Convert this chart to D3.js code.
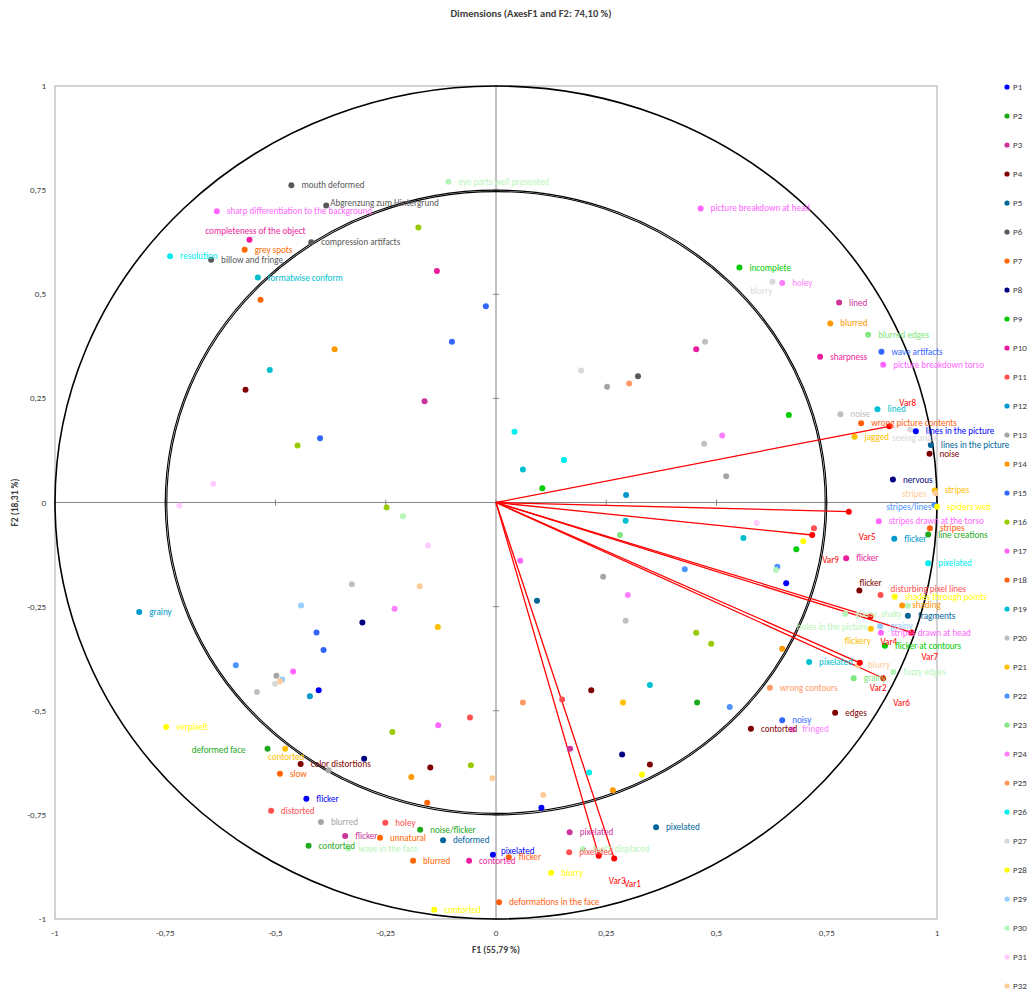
<!DOCTYPE html>
<html><head><meta charset="utf-8">
<script src="https://cdn.jsdelivr.net/npm/d3@7"></script>
<style>
body{margin:0;background:#fff}
svg text{font-family:Carlito, Calibri, Lato, sans-serif}
</style>
</head><body>
<svg id="chart" width="1030" height="996"></svg>
<script>
// ---------------- DATA ----------------
const persons = ["P1","P2","P3","P4","P5","P6","P7","P8","P9","P10","P11","P12","P13","P14","P15","P16",
  "P17","P18","P19","P20","P21","P22","P23","P24","P25","P26","P27","P28","P29","P30","P31","P32"];
const personColors = ["#0000FF","#1DA81D","#CC3399","#7F0000","#006699","#595959","#FF6600","#000080",
  "#00CC00","#EC1C9C","#FF5050","#0099CC","#A6A6A6","#FF9900","#3366FF","#99CC00",
  "#FF66FF","#FF6010","#00C0D0","#C0C0C0","#FFC000","#4D94FF","#80E680","#FF80FF",
  "#FF9966","#00EEEE","#D9D9D9","#FFFF00","#99CCFF","#B8F5B8","#FFCCFF","#FFCC99"];
const tickValues = [-1,-0.75,-0.5,-0.25,0,0.25,0.5,0.75,1];
const tickLabels = ["-1","-0,75","-0,5","-0,25","0","0,25","0,5","0,75","1"];
const variables = ["Var1","Var2","Var3","Var4","Var5","Var6","Var7","Var8","Var9"];
const varF1 = [0.268,0.825,0.233,0.849,0.800,0.878,0.942,0.892,0.717];
const varF2 = [-0.855,-0.385,-0.848,-0.274,-0.022,-0.422,-0.312,0.183,-0.078];
const circleRadii = [1, 0.75];
const titleText = "Dimensions (AxesF1 and F2: 74,10 %)";
const xTitle = "F1 (55,79 %)";
const yTitle = "F2 (18,31 %)";

// [person, F1, F2, label]
const points = [
  ["P6",-0.464,0.762,"mouth deformed"],
  ["P6",-0.385,0.713,"Abgrenzung zum Hintergrund"],
  ["P17",-0.633,0.699,"sharp differentiation to the background"],
  ["P10",-0.559,0.631,"completeness of the object"],
  ["P7",-0.570,0.607,"grey spots"],
  ["P6",-0.419,0.625,"compression artifacts"],
  ["P26",-0.739,0.591,"resolution"],
  ["P6",-0.646,0.583,"billow and fringe"],
  ["P19",-0.540,0.540,"formatwise conform"],
  ["P30",-0.108,0.770,"eye parts well presented"],
  ["P17",0.464,0.706,"picture breakdown at head"],
  ["P9",0.552,0.564,"incomplete"],
  ["P27",0.627,0.530,"blurry"],
  ["P24",0.649,0.527,"holey"],
  ["P3",0.778,0.480,"lined"],
  ["P14",0.758,0.430,"blurred"],
  ["P23",0.844,0.403,"blurred edges"],
  ["P15",0.874,0.362,"wave artifacts"],
  ["P17",0.878,0.331,"picture breakdown torso"],
  ["P10",0.735,0.350,"sharpness"],
  ["P19",0.865,0.224,"lined"],
  ["P20",0.781,0.212,"noise"],
  ["P18",0.828,0.190,"wrong picture contents"],
  ["P27",0.939,0.175,"seeing angle"],
  ["P1",0.952,0.171,"lines in the picture"],
  ["P21",0.813,0.158,"jagged"],
  ["P5",0.986,0.138,"lines in the picture"],
  ["P4",0.983,0.117,"noise"],
  ["P8",0.900,0.055,"nervous"],
  ["P21",0.995,0.029,"stripes"],
  ["P32",0.997,0.022,"stripes"],
  ["P22",0.994,-0.006,"stripes/lines"],
  ["P28",1.000,-0.010,"spiders web"],
  ["P17",0.868,-0.045,"stripes drawn at the torso"],
  ["P18",0.984,-0.062,"stripes"],
  ["P2",0.980,-0.077,"line creations"],
  ["P12",0.903,-0.087,"flicker"],
  ["P26",0.980,-0.146,"pixelated"],
  ["P10",0.794,-0.134,"flicker"],
  ["P4",0.824,-0.211,"flicker"],
  ["P11",0.872,-0.222,"disturbing pixel lines"],
  ["P28",0.904,-0.226,"shades through points"],
  ["P30",0.934,-0.248,"holes in the picture"],
  ["P14",0.921,-0.247,"shading"],
  ["P5",0.934,-0.272,"fragments"],
  ["P30",0.792,-0.268,"glassy, shaky"],
  ["P21",0.850,-0.303,"flickery"],
  ["P29",0.871,-0.297,"grainy"],
  ["P17",0.873,-0.313,"stripes drawn at head"],
  ["P9",0.882,-0.344,"flicker at contours"],
  ["P19",0.710,-0.383,"pixelated"],
  ["P32",0.821,-0.391,"blurry"],
  ["P23",0.811,-0.422,"grainy"],
  ["P30",0.901,-0.407,"fuzzy edges"],
  ["P25",0.621,-0.445,"wrong contours"],
  ["P4",0.769,-0.505,"edges"],
  ["P15",0.649,-0.523,"noisy"],
  ["P24",0.672,-0.545,"fringed"],
  ["P4",0.578,-0.543,"contorted"],
  ["P12",-0.809,-0.263,"grainy"],
  ["P28",-0.748,-0.539,"verpixelt"],
  ["P2",-0.518,-0.591,"deformed face"],
  ["P21",-0.478,-0.591,"contorted"],
  ["P4",-0.443,-0.628,"color distortions"],
  ["P7",-0.490,-0.651,"slow"],
  ["P1",-0.430,-0.711,"flicker"],
  ["P11",-0.510,-0.740,"distorted"],
  ["P13",-0.397,-0.767,"blurred"],
  ["P11",-0.251,-0.769,"holey"],
  ["P2",-0.172,-0.786,"noise/flicker"],
  ["P3",-0.342,-0.801,"flicker"],
  ["P7",-0.263,-0.805,"unnatural"],
  ["P5",-0.120,-0.811,"deformed"],
  ["P2",-0.425,-0.824,"contorted"],
  ["P30",-0.335,-0.831,"wave in the face"],
  ["P1",-0.007,-0.846,"pixelated"],
  ["P7",-0.188,-0.860,"blurred"],
  ["P10",-0.061,-0.860,"contorted"],
  ["P18",0.029,-0.852,"flicker"],
  ["P3",0.167,-0.792,"pixelated"],
  ["P30",0.197,-0.832,"teeth displaced"],
  ["P11",0.166,-0.840,"pixelated"],
  ["P5",0.363,-0.780,"pixelated"],
  ["P28",0.125,-0.889,"blurry"],
  ["P18",0.007,-0.960,"deformations in the face"],
  ["P28",-0.140,-0.978,"contorted"],
  // unlabeled points
  ["P16",-0.176,0.660,""],["P10",-0.134,0.556,""],["P7",-0.534,0.487,""],["P15",-0.023,0.471,""],
  ["P15",-0.100,0.386,""],["P14",-0.366,0.368,""],["P19",-0.513,0.318,""],["P4",-0.568,0.271,""],
  ["P3",-0.162,0.243,""],["P15",-0.399,0.154,""],["P16",-0.450,0.137,""],["P31",-0.641,0.045,""],
  ["P31",-0.718,-0.007,""],["P16",-0.248,-0.012,""],["P30",-0.211,-0.033,""],["P31",-0.154,-0.103,""],
  ["P20",-0.327,-0.196,""],["P32",-0.173,-0.201,""],["P29",-0.442,-0.247,""],["P24",-0.230,-0.255,""],
  ["P8",-0.303,-0.288,""],["P21",-0.132,-0.299,""],["P15",-0.407,-0.312,""],["P15",-0.391,-0.354,""],
  ["P22",-0.590,-0.391,""],["P13",-0.498,-0.416,""],["P17",-0.460,-0.406,""],["P29",-0.485,-0.425,""],
  ["P32",-0.490,-0.429,""],["P27",-0.501,-0.435,""],["P1",-0.402,-0.451,""],["P20",-0.542,-0.455,""],
  ["P12",-0.422,-0.465,""],["P13",-0.380,-0.643,""],["P8",-0.299,-0.615,""],["P16",-0.235,-0.551,""],
  ["P17",-0.131,-0.535,""],["P11",-0.059,-0.516,""],["P14",-0.192,-0.659,""],["P4",-0.149,-0.636,""],
  ["P16",-0.057,-0.631,""],["P32",-0.008,-0.662,""],["P7",-0.156,-0.721,""],["P1",0.103,-0.733,""],
  ["P32",0.107,-0.702,""],["P14",0.265,-0.691,""],["P6",0.322,0.303,""],["P27",0.193,0.317,""],
  ["P13",0.252,0.278,""],["P25",0.302,0.286,""],["P10",0.454,0.368,""],["P20",0.474,0.386,""],
  ["P26",0.042,0.170,""],["P29",0.154,0.102,""],["P26",0.154,0.102,""],["P19",0.061,0.079,""],
  ["P9",0.105,0.034,""],["P12",0.295,0.018,""],["P19",0.294,-0.044,""],["P23",0.281,-0.078,""],
  ["P17",0.055,-0.140,""],["P22",0.428,-0.160,""],["P13",0.243,-0.178,""],["P24",0.299,-0.222,""],
  ["P5",0.093,-0.236,""],["P20",0.294,-0.284,""],["P16",0.454,-0.313,""],["P16",0.488,-0.339,""],
  ["P4",0.216,-0.451,""],["P19",0.349,-0.438,""],["P11",0.150,-0.473,""],["P21",0.288,-0.480,""],
  ["P25",0.061,-0.480,""],["P2",0.456,-0.480,""],["P22",0.530,-0.491,""],["P3",0.168,-0.591,""],
  ["P8",0.286,-0.605,""],["P4",0.349,-0.629,""],["P26",0.211,-0.648,""],["P28",0.331,-0.653,""],
  ["P24",0.513,0.161,""],["P20",0.472,0.141,""],["P13",0.522,0.063,""],["P9",0.664,0.210,""],
  ["P31",0.591,-0.049,""],["P19",0.561,-0.085,""],["P28",0.697,-0.093,""],["P9",0.681,-0.112,""],
  ["P22",0.638,-0.154,""],["P30",0.635,-0.162,""],["P1",0.658,-0.194,""],["P11",0.721,-0.062,""],
  ["P14",0.649,-0.351,""]
];

// label placement tweaks (anchor, dx, dy in px) for labels not placed at default right position
const labelAdjust = {
  "P10|completeness of the object": ["middle", 6, -9],
  "P6|Abgrenzung zum Hintergrund": ["start", 4, -3],
  "P27|blurry": ["end", 0, 9],
  "P27|seeing angle": ["start", -18, 8],
  "P32|stripes": ["end", -9, 1],
  "P22|stripes/lines": ["end", -3, 2],
  "P2|deformed face": ["end", -22, 1],
  "P21|contorted": ["middle", 1, 8],
  "P4|flicker": ["start", 0, -7],
  "P11|disturbing pixel lines": ["start", 10, -6],
  "P21|flickery": ["end", 0, 12],
  "P30|holes in the picture": ["end", -40, 21],
  "P1|pixelated": ["start", 8, -4]
};

// ---------------- DRAW ----------------
const svg = d3.select("#chart");
const x = d3.scaleLinear().domain([-1, 1]).range([55, 937]);
const y = d3.scaleLinear().domain([-1, 1]).range([919, 86]);
const colorOf = d3.scaleOrdinal().domain(persons).range(personColors);

// title
svg.append("text").attr("x", 531).attr("y", 17).attr("text-anchor", "middle")
  .attr("font-size", 10.5).attr("font-weight", "bold").attr("fill", "#404040").text(titleText);

// plot frame
svg.append("rect").attr("x", x(-1)).attr("y", y(1)).attr("width", x(1) - x(-1)).attr("height", y(-1) - y(1))
  .attr("fill", "none").attr("stroke", "#A6A6A6").attr("stroke-width", 1);

// center axes
const axisColor = "#868686";
svg.append("line").attr("x1", x(-1)).attr("x2", x(1)).attr("y1", y(0)).attr("y2", y(0))
  .attr("stroke", axisColor).attr("stroke-width", 1);
svg.append("line").attr("x1", x(0)).attr("x2", x(0)).attr("y1", y(-1)).attr("y2", y(1))
  .attr("stroke", axisColor).attr("stroke-width", 1);
svg.append("g").selectAll("line").data(tickValues).join("line")
  .attr("x1", d => x(d)).attr("x2", d => x(d)).attr("y1", y(0) - 3).attr("y2", y(0) + 3)
  .attr("stroke", axisColor);
svg.append("g").selectAll("line").data(tickValues).join("line")
  .attr("y1", d => y(d)).attr("y2", d => y(d)).attr("x1", x(0) - 3).attr("x2", x(0) + 3)
  .attr("stroke", axisColor);

// tick labels
svg.append("g").selectAll("text").data(tickValues).join("text")
  .attr("x", d => x(d)).attr("y", 936).attr("text-anchor", "middle")
  .attr("font-size", 9).attr("fill", "#404040").text((d, i) => tickLabels[i]);
svg.append("g").selectAll("text").data(tickValues).join("text")
  .attr("x", 46).attr("y", d => y(d) + 3).attr("text-anchor", "end")
  .attr("font-size", 9).attr("fill", "#404040").text((d, i) => tickLabels[i]);

// axis titles
svg.append("text").attr("x", x(0)).attr("y", 953).attr("text-anchor", "middle")
  .attr("font-size", 9.5).attr("font-weight", "bold").attr("fill", "#404040").text(xTitle);
svg.append("text").attr("transform", `translate(18,${y(0)}) rotate(-90)`).attr("text-anchor", "middle")
  .attr("font-size", 9.5).attr("font-weight", "bold").attr("fill", "#404040").text(yTitle);

// circles
const rx = r => x(r) - x(0), ry = r => y(0) - y(r);
svg.append("ellipse").attr("cx", x(0)).attr("cy", y(0)).attr("rx", rx(circleRadii[0])).attr("ry", ry(circleRadii[0]))
  .attr("fill", "none").attr("stroke", "#000").attr("stroke-width", 1.6);
[circleRadii[1], circleRadii[1] - 0.0035].forEach(r => {
  svg.append("ellipse").attr("cx", x(0)).attr("cy", y(0)).attr("rx", rx(r)).attr("ry", ry(r))
    .attr("fill", "none").attr("stroke", "#000").attr("stroke-width", 1.1);
});

// variable vectors
const vars = variables.map((v, i) => ({name: v, f1: varF1[i], f2: varF2[i]}));
svg.append("g").selectAll("line").data(vars).join("line")
  .attr("x1", x(0)).attr("y1", y(0)).attr("x2", d => x(d.f1)).attr("y2", d => y(d.f2))
  .attr("stroke", "#FF0000").attr("stroke-width", 1.3);

// points
const pts = points.map(p => ({person: p[0], f1: p[1], f2: p[2], label: p[3]}));
svg.append("g").selectAll("circle").data(pts).join("circle")
  .attr("cx", d => x(d.f1)).attr("cy", d => y(d.f2)).attr("r", 3)
  .attr("fill", d => colorOf(d.person));

// variable endpoints + labels
svg.append("g").selectAll("circle").data(vars).join("circle")
  .attr("cx", d => x(d.f1)).attr("cy", d => y(d.f2)).attr("r", 3).attr("fill", "#FF0000");
svg.append("g").selectAll("text").data(vars).join("text")
  .attr("x", d => x(d.f1) + 10).attr("y", d => y(d.f2) + (d.name === "Var8" ? -23 : 25) + 3)
  .attr("font-size", 9.1).attr("fill", "#FF0000").text(d => d.name);

// point labels
svg.append("g").selectAll("text").data(pts.filter(d => d.label)).join("text")
  .each(function(d) {
    const adj = labelAdjust[d.person + "|" + d.label] || ["start", 10, 0];
    d3.select(this).attr("text-anchor", adj[0])
      .attr("x", x(d.f1) + adj[1]).attr("y", y(d.f2) + adj[2] + 3);
  })
  .attr("font-size", 9.1).attr("fill", d => colorOf(d.person)).text(d => d.label);

// legend
const lg = svg.append("g").selectAll("g").data(persons).join("g")
  .attr("transform", (d, i) => `translate(1007,${87 + i * 29})`);
lg.append("circle").attr("r", 2.6).attr("fill", d => colorOf(d));
lg.append("text").attr("x", 6).attr("y", 3).attr("font-size", 9).attr("fill", "#404040").text(d => d);
</script>
</body></html>
